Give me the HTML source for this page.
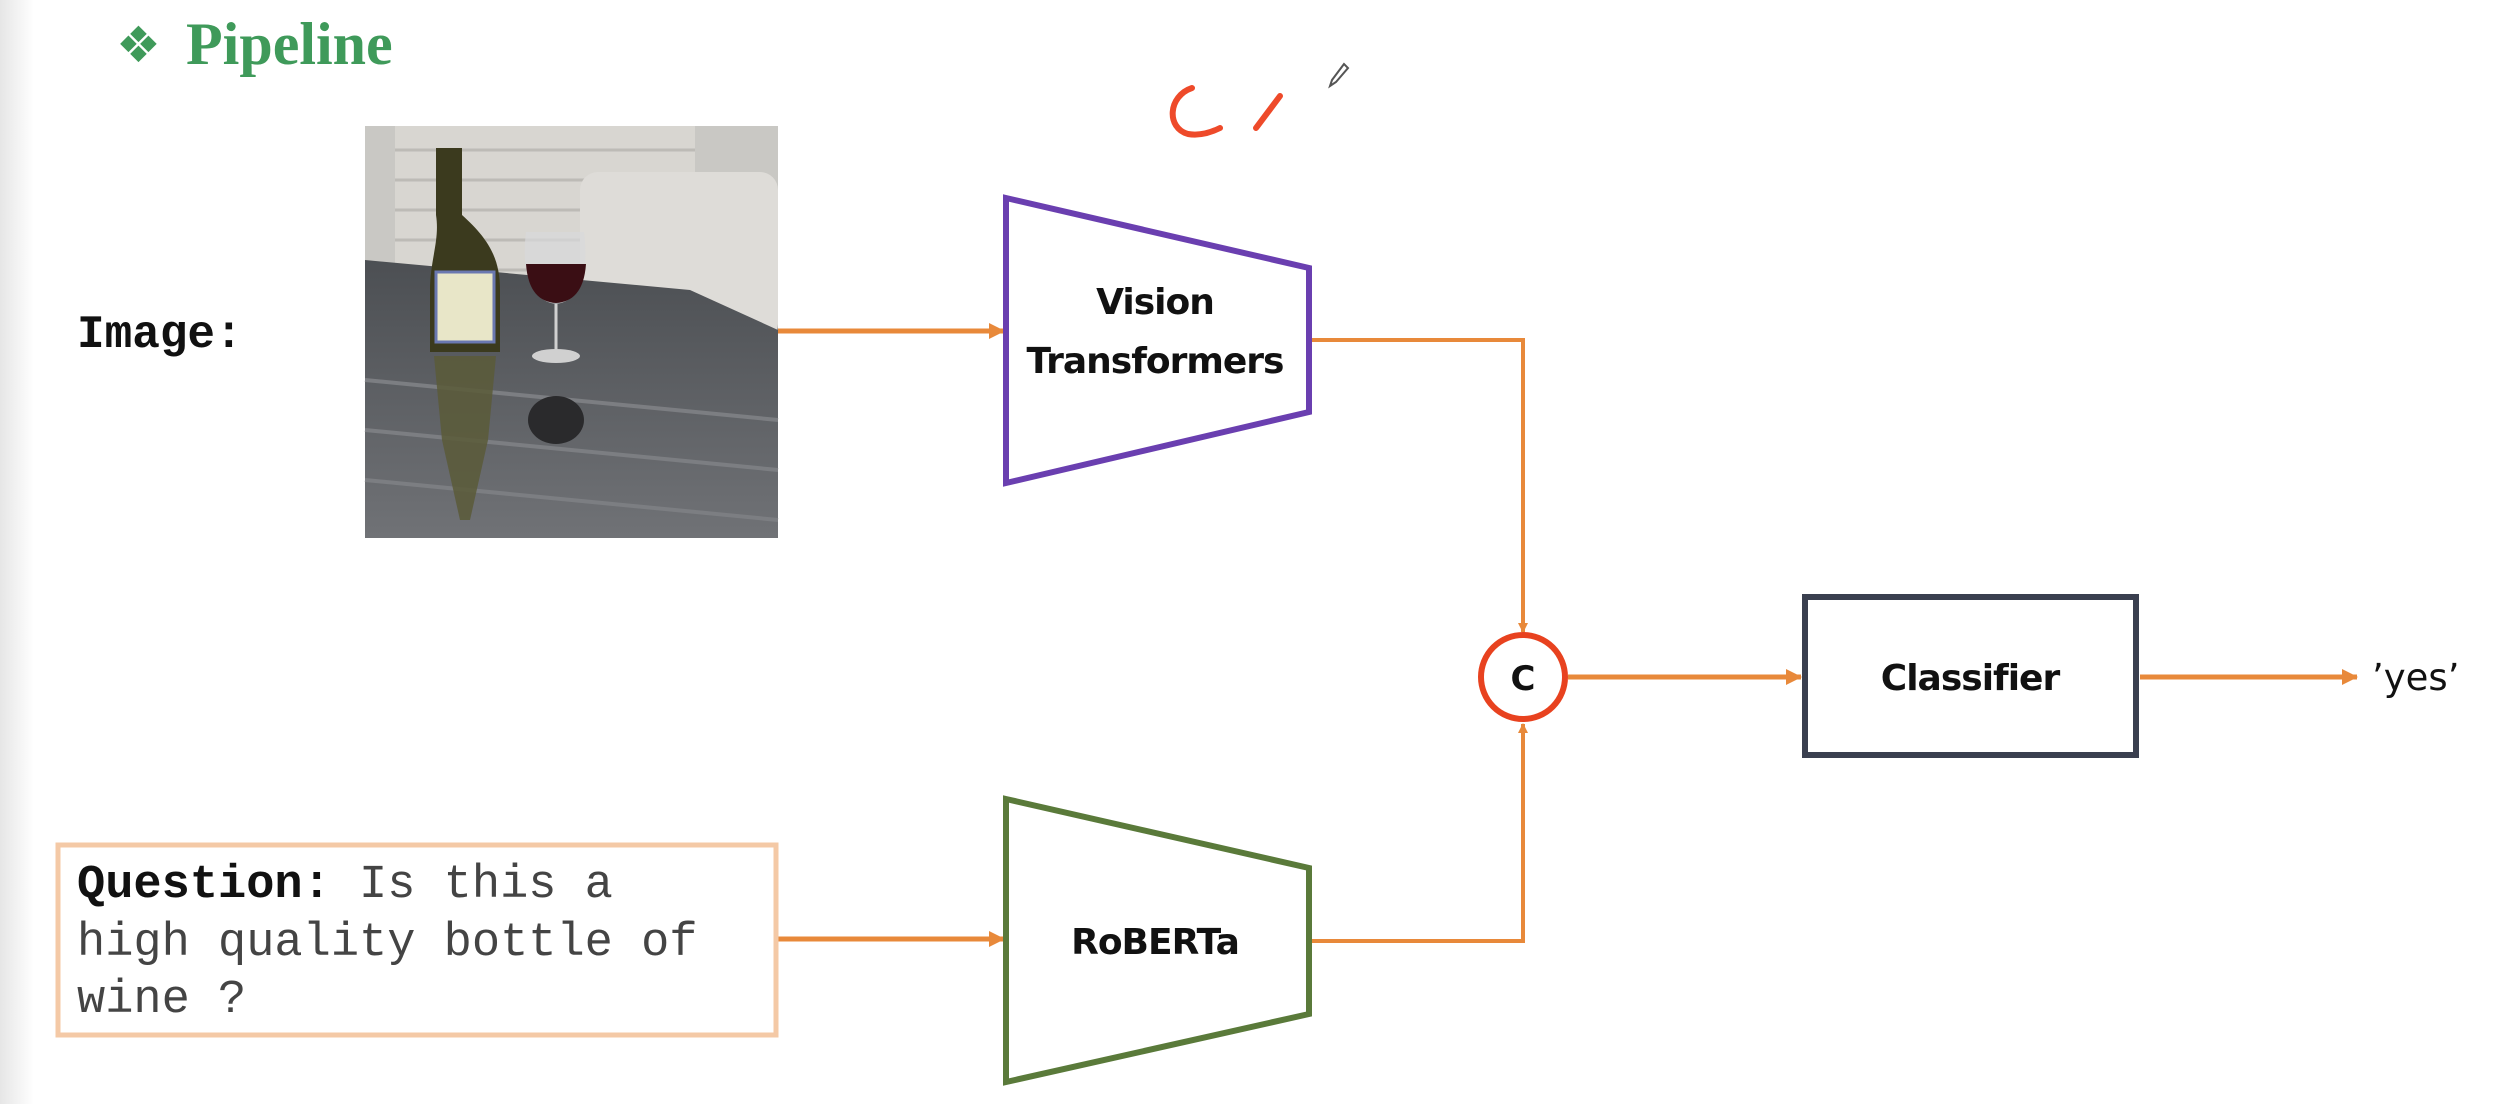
<!DOCTYPE html>
<html><head><meta charset="utf-8"><style>
html,body{margin:0;padding:0;background:#fff;}
body{width:2508px;height:1104px;position:relative;overflow:hidden;}
</style></head><body>
<svg width="2508" height="1104" viewBox="0 0 2508 1104" xmlns="http://www.w3.org/2000/svg">
<defs>
<linearGradient id="edge" x1="0" x2="1"><stop offset="0" stop-color="#e6e6e6"/><stop offset="1" stop-color="#fff"/></linearGradient>
<linearGradient id="tbl" x1="0" y1="0" x2="0" y2="1"><stop offset="0" stop-color="#4c4f53"/><stop offset="1" stop-color="#707276"/></linearGradient>
<marker id="ah" markerWidth="10" markerHeight="10" refX="9" refY="5" orient="auto" markerUnits="userSpaceOnUse"><path d="M0,0 L10,5 L0,10 z" fill="#e8893a"/></marker>
<marker id="ah2" markerWidth="16" markerHeight="16" refX="15" refY="8" orient="auto" markerUnits="userSpaceOnUse"><path d="M0,0 L16,8 L0,16 z" fill="#e8893a"/></marker>
</defs>
<rect x="0" y="0" width="34" height="1104" fill="url(#edge)"/>

<g>
<text x="116" y="62" font-family="'DejaVu Sans',sans-serif" font-weight="bold" font-size="50" fill="#3f9a5a">❖</text>
<text x="186" y="64" font-family="'Liberation Serif',serif" font-weight="bold" font-size="60" fill="#3f9a5a">Pipeline</text>
</g>

<g fill="none" stroke="#ee4a2a" stroke-width="6" stroke-linecap="round">
<path d="M1192,88 C1168,96 1166,128 1188,134 C1200,136 1212,132 1220,128"/>
<path d="M1280,96 L1256,128"/>
</g>
<g stroke="#555" stroke-width="2" fill="none"><path d="M1344,64 L1332,80 L1330,86 L1336,82 L1348,68 z"/></g>

<text x="77" y="347" font-family="'Liberation Mono',monospace" font-weight="bold" font-size="46" fill="#111">Image:</text>

<g>
<rect x="365" y="126" width="413" height="412" fill="#8a8b8d"/>
<rect x="365" y="126" width="413" height="180" fill="#c9c8c4"/>
<rect x="395" y="126" width="300" height="180" fill="#d8d6d1"/>
<g stroke="#bdbbb6" stroke-width="3"><line x1="395" y1="150" x2="695" y2="150"/><line x1="395" y1="180" x2="695" y2="180"/><line x1="395" y1="210" x2="695" y2="210"/><line x1="395" y1="240" x2="695" y2="240"/><line x1="395" y1="270" x2="695" y2="270"/></g>
<rect x="580" y="172" width="198" height="170" rx="18" fill="#dedcd8"/>
<polygon points="365,260 690,290 778,330 778,538 365,538" fill="url(#tbl)"/>
<g stroke="#7c7e82" stroke-width="4"><line x1="365" y1="380" x2="778" y2="420"/><line x1="365" y1="430" x2="778" y2="470"/><line x1="365" y1="480" x2="778" y2="520"/></g>
<path d="M436,148 L462,148 L462,215 C490,240 500,260 500,290 L500,352 L430,352 L430,290 C430,260 440,240 436,215 z" fill="#3b3a1e"/>
<rect x="436" y="272" width="58" height="70" fill="#e8e6c8" stroke="#6a78b0" stroke-width="3"/>
<path d="M434,356 L496,356 L488,440 L470,520 L460,520 L442,440 z" fill="#5a5a38" opacity="0.85"/>
<path d="M526,232 C520,280 536,302 556,304 C576,302 590,280 584,232 z" fill="#d9d9dc" opacity="0.7"/>
<path d="M526,264 C528,292 540,302 556,303 C572,302 584,292 586,264 z" fill="#3a0e14"/>
<line x1="556" y1="304" x2="556" y2="354" stroke="#d0d0d0" stroke-width="3"/>
<ellipse cx="556" cy="356" rx="24" ry="7" fill="#d0d0d0"/>
<ellipse cx="556" cy="420" rx="28" ry="24" fill="#2a2a2c"/>
</g>

<g fill="none" stroke="#e8893a">
<line x1="778" y1="331" x2="1004" y2="331" stroke-width="5" marker-end="url(#ah2)"/>
<polyline points="1309,340 1523,340 1523,632" stroke-width="4" marker-end="url(#ah)"/>
<polyline points="1309,941 1523,941 1523,724" stroke-width="4" marker-end="url(#ah)"/>
<line x1="1568" y1="677" x2="1801" y2="677" stroke-width="5" marker-end="url(#ah2)"/>
<line x1="2140" y1="677" x2="2357" y2="677" stroke-width="5" marker-end="url(#ah2)"/>
<line x1="778" y1="939" x2="1004" y2="939" stroke-width="5" marker-end="url(#ah2)"/>
</g>

<g>
<polygon points="1006,198 1309,268 1309,412 1006,483" fill="#fff" stroke="#6a3fb0" stroke-width="6"/>
<text x="1155" y="314" text-anchor="middle" font-family="'DejaVu Sans','Liberation Sans',sans-serif" font-weight="bold" font-size="36" fill="#111" letter-spacing="-1">Vision</text>
<text x="1155" y="373" text-anchor="middle" font-family="'DejaVu Sans','Liberation Sans',sans-serif" font-weight="bold" font-size="36" fill="#111" letter-spacing="-1">Transformers</text>
</g>

<g>
<circle cx="1523" cy="677" r="42" fill="#fff" stroke="#e8421f" stroke-width="6"/>
<text x="1523" y="690" text-anchor="middle" font-family="'DejaVu Sans','Liberation Sans',sans-serif" font-weight="bold" font-size="34" fill="#111">C</text>
</g>

<g>
<rect x="1805" y="597" width="331" height="158" fill="#fff" stroke="#3a3f4f" stroke-width="6"/>
<text x="1970" y="690" text-anchor="middle" font-family="'DejaVu Sans','Liberation Sans',sans-serif" font-weight="bold" font-size="36" fill="#111" letter-spacing="-1">Classifier</text>
</g>

<text x="2372" y="690" font-family="'DejaVu Sans','Liberation Sans',sans-serif" font-size="37" fill="#111">’yes’</text>

<g>
<polygon points="1006,799 1309,868 1309,1014 1006,1082" fill="#fff" stroke="#5a7a3a" stroke-width="6"/>
<text x="1155" y="954" text-anchor="middle" font-family="'DejaVu Sans','Liberation Sans',sans-serif" font-weight="bold" font-size="36" fill="#111" letter-spacing="-1">RoBERTa</text>
</g>

<g>
<rect x="58" y="845" width="718" height="190" fill="#fff" stroke="#f4c9a6" stroke-width="5"/>
<text font-family="'Liberation Mono',monospace" font-size="47" fill="#444">
<tspan x="77" y="897"><tspan font-weight="bold" fill="#111">Question:</tspan> Is this a</tspan>
<tspan x="77" y="955">high quality bottle of</tspan>
<tspan x="77" y="1012">wine ?</tspan>
</text>
</g>
</svg>
</body></html>
